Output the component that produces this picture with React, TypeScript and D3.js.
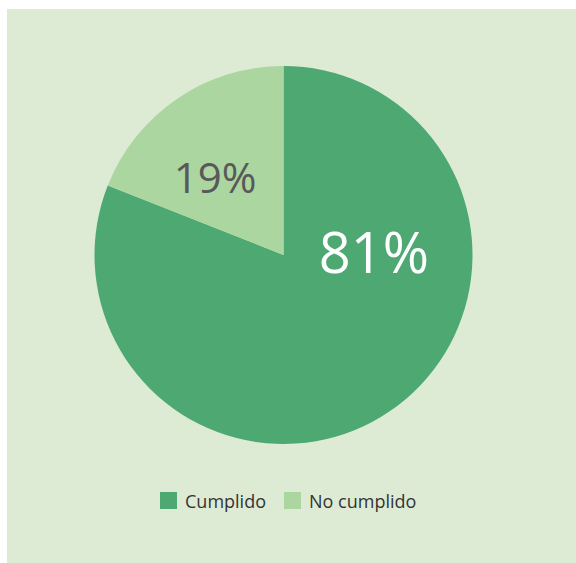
import React from "react";
import * as d3 from "d3";

const categories = ["Cumplido", "No cumplido"];
const values = [81, 19];
const labels = ["81%", "19%"];
const colors = ["#4ea872", "#abd6a0"];

export default function App() {
  const W = 576, H = 563;
  const cx = 283.5, cy = 255, r = 189;
  const pie = d3.pie<number>().sort(null).value((d) => d);
  const arcs = pie(values);
  const arc = d3.arc<d3.PieArcDatum<number>>().innerRadius(0).outerRadius(r);
  const labelPos = [
    { x: 374, y: 251, size: 56, fill: "#ffffff" },
    { x: 215, y: 176, size: 42, fill: "#595959" },
  ];
  const font = "'Open Sans', 'Noto Sans', sans-serif";
  return (
    <svg width={W} height={H} style={{ position: "absolute", left: 0, top: 0 }}>
      <rect x={7} y={9} width={W - 7} height={H - 9} fill="#ddebd5" />
      <g transform={`translate(${cx},${cy})`}>
        {arcs.map((a, i) => (
          <path key={i} d={arc(a) || ""} fill={colors[i]} />
        ))}
      </g>
      {labels.map((l, i) => (
        <text
          key={i}
          x={labelPos[i].x}
          y={labelPos[i].y}
          textAnchor="middle"
          dominantBaseline="central"
          fontFamily={font}
          fontSize={labelPos[i].size}
          fill={labelPos[i].fill}
        >
          {l}
        </text>
      ))}
      {categories.map((c, i) => {
        const x0 = i === 0 ? 160 : 284;
        return (
          <g key={c}>
            <rect x={x0} y={492} width={17} height={17} fill={colors[i]} />
            <text x={x0 + 25} y={508} fontFamily={font} fontSize={18} fill="#333333">
              {c}
            </text>
          </g>
        );
      })}
    </svg>
  );
}
